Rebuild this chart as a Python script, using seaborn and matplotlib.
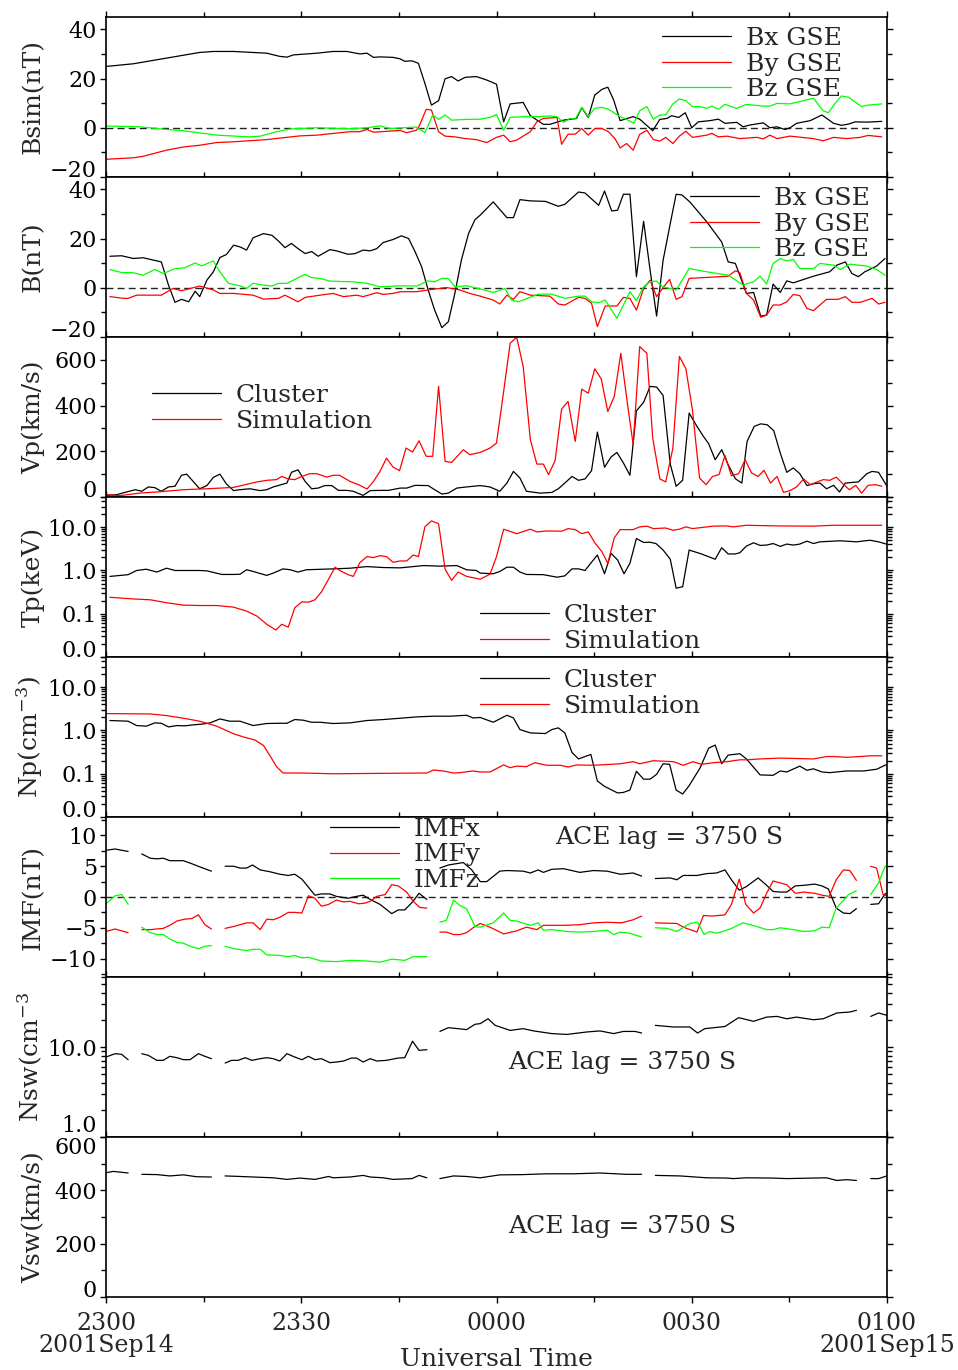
import numpy as np
import pandas as pd
import matplotlib
matplotlib.use("Agg")
import matplotlib.pyplot as plt
import seaborn as sns
from matplotlib.ticker import FixedLocator, FixedFormatter, LogLocator, NullFormatter
from matplotlib.lines import Line2D

# ---------------- data: (minutes after 2001-09-14 23:00 UT, value) ----------------
bsim_x = [(0,24.9),(4.2,26),(9.3,28.3),(14.4,30.6),(16.5,31),(19.6,31),(24.7,30.3),(26.7,29),(27.8,28.7),(28.8,29.6),(32.4,30.3),(34.9,31),(37.0,31),(39.0,30),(40.1,30.3),(41.1,28.6),(42.1,28.8),(44.1,28.6),(45.2,28),(45.9,27),(47.0,27.2),(48.0,26.2),(49.0,18),(50.0,9.2),(51.1,11),(52.1,19.9),(53.1,20.8),(54.1,19),(55.2,20.5),(56.9,20.8),(58.5,19.4),(60.0,17.7),(61.1,2.4),(62.1,9.7),(64.1,10.3),(65.2,4.9),(67.2,1.4),(68.2,1.4),(70.3,3.1),(72.3,3.8),(73.1,8.2),(74.1,4.2),(75.1,13.3),(76.2,15.6),(77.1,16.5),(78.0,11.3),(79.0,2.9),(81.0,4.5),(82.0,3.5),(84.0,-1.2),(85.1,3.4),(86.2,3.8),(86.9,4.9),(88.0,4.2),(89.0,6.1),(90.0,0),(91.0,2.4),(92.8,2.9),(94.1,3.5),(95.1,1.8),(96.9,2.2),(97.9,0.4),(98.9,1.1),(101.0,2.0),(102.0,0),(103.1,0.4),(104.3,-0.7),(105.1,0),(106.1,1.8),(108.2,2.9),(110.0,5.2),(111.8,1.8),(113.0,1.0),(114.1,1.5),(115.1,2.4),(117.1,2.3),(119.2,2.6)]
bsim_y = [(0,-12.8),(4.2,-12.2),(5.7,-11.6),(9.3,-9.1),(11.9,-7.8),(14.4,-7.1),(17.0,-6.0),(19.6,-5.7),(24.7,-4.8),(29.8,-3.3),(32.4,-3.0),(34.9,-2.3),(37.5,-1.6),(39.0,-1.6),(40.1,-0.7),(41.1,-1.8),(45.2,-1.1),(46.2,-2.0),(47.7,-1.0),(48.2,1.1),(49.2,7.5),(50.0,7.2),(51.1,-1.6),(52.1,-3.4),(53.6,-3.7),(55.2,-4.4),(56.9,-4.8),(57.5,-5.3),(58.5,-6.0),(60.0,-3.9),(61.1,-3.0),(62.1,-5.7),(63.1,-5.0),(65.2,-1.6),(66.2,2.4),(67.2,3.8),(69.3,4.2),(70.0,-6.7),(71.0,-2.6),(72.1,-2.6),(73.1,-0.3),(74.1,-3.0),(75.1,-0.3),(76.2,-0.3),(77.2,-1.6),(78.2,-4.4),(79.0,-8.2),(80.0,-6.4),(81.0,-9.1),(82.0,-2.7),(83.1,-1.0),(84.1,-4.8),(85.1,-5.4),(86.0,-3.9),(87.1,-6.4),(88.1,-3.4),(89.1,-1.4),(90.1,-3.9),(92.3,-3.0),(93.1,-2.3),(94.1,-3.7),(95.4,-3.4),(97.4,-4.4),(100.0,-3.9),(101.0,-4.5),(102.0,-3.0),(103.1,-4.4),(105.1,-3.4),(108.7,-4.4),(110.2,-5.3),(111.8,-3.9),(113.8,-4.4),(115.9,-3.9),(117.1,-3.1),(119.2,-3.7)]
bsim_z = [(0,0.7),(5.2,0.4),(9.3,-0.7),(11.9,-1.2),(17.0,-3.0),(22.1,-3.7),(23.7,-3.4),(26.2,-1.6),(28.3,-0.5),(32.4,0),(37.5,-0.4),(40.1,0),(42.1,0.8),(43.6,-0.3),(47.7,0.3),(49.0,-2.0),(50.2,5.2),(51.1,3.4),(52.1,5.2),(53.1,3.1),(55.4,3.4),(57.5,3.5),(59.0,4.2),(60.0,5.4),(61.1,-1.0),(62.1,4.2),(64.1,4.5),(66.2,4.5),(68.2,4.8),(69.3,4.5),(70.3,2.2),(71.3,3.8),(72.1,3.5),(73.1,8.3),(74.1,4.5),(75.1,7.9),(76.2,8.3),(77.2,7.5),(79.0,4.5),(80.0,3.4),(81.1,1.8),(82.0,6.9),(83.1,8.6),(84.1,3.5),(85.1,5.2),(86.0,5.2),(87.1,9.7),(88.1,11.7),(89.1,11.0),(90.1,8.6),(91.3,8.6),(92.3,7.9),(93.1,8.8),(94.1,7.5),(95.1,9.5),(96.9,7.9),(98.4,9.5),(101.0,8.8),(102.0,8.8),(103.1,9.9),(105.1,9.7),(108.7,12.0),(110.2,6.9),(111.0,6.1),(112.0,9.9),(113.0,12.9),(114.1,12.4),(116.1,8.6),(117.1,9.2),(119.2,9.7)]

b_x = [(0.6,12.8),(2.4,13.0),(4.2,11.9),(5.7,12.2),(8.5,10.5),(9.6,1.1),(10.6,-5.9),(11.6,-4.7),(12.7,-5.7),(13.7,-1.4),(14.4,-3.6),(15.5,3.1),(16.5,6.5),(17.5,12.3),(18.5,13.5),(19.6,17.3),(20.6,16.6),(21.6,15.3),(22.6,20.3),(24.2,22.0),(25.5,21.3),(26.5,19.0),(27.5,16.3),(28.5,18.0),(29.5,15.9),(30.6,13.9),(31.6,14.7),(32.6,12.8),(34.4,15.5),(35.4,15.0),(37.2,13.6),(38.3,13.9),(39.5,15.3),(40.6,15.0),(41.6,15.9),(42.6,18.4),(44.1,19.6),(45.4,21.1),(46.5,20.0),(47.5,14.6),(48.5,8.5),(49.5,-0.9),(50.5,-9.1),(51.6,-16.2),(52.6,-13.8),(53.6,-2.3),(54.6,11.2),(55.7,22.0),(56.7,27.7),(57.5,29.5),(59.5,34.9),(61.6,28.5),(62.6,28.5),(63.6,35.8),(65.2,35.3),(67.5,35.1),(69.5,33.1),(70.5,33.9),(72.6,38.9),(73.6,38.5),(75.7,33.5),(76.6,39.3),(77.7,31.2),(78.6,31.5),(79.5,38.0),(80.5,38.0),(81.5,4.5),(82.6,27.0),(83.6,7.2),(84.6,-11.5),(85.6,11.2),(86.7,26.1),(87.6,38.0),(88.5,37.7),(89.7,34.9),(92.3,26.8),(94.6,18.6),(95.6,10.5),(96.7,9.9),(98.4,-2.3),(99.5,-1.9),(100.6,-11.5),(101.5,-11.1),(102.5,1.5),(103.6,-1.9),(104.6,2.8),(105.6,2.0),(108.7,4.7),(111.2,6.5),(112.3,9.2),(113.6,10.5),(114.6,5.8),(115.6,4.5),(116.6,6.5),(118.4,8.8),(119.7,11.9)]
b_y = [(0.6,-3.6),(2.7,-4.3),(3.4,-4.3),(4.7,-3.0),(6.8,-3.0),(8.5,-3.0),(10.3,-0.3),(11.6,-1.2),(14.4,0.7),(16.5,-0.9),(17.5,-2.3),(19.6,-2.3),(22.6,-3.0),(24.2,-4.6),(26.5,-4.3),(27.5,-3.0),(29.5,-5.7),(30.6,-3.9),(32.9,-3.0),(34.9,-2.3),(36.5,-3.6),(38.5,-3.0),(39.5,-3.6),(41.6,-2.0),(42.6,-2.7),(44.1,-2.3),(45.2,-1.6),(47.7,-1.6),(49.5,-0.9),(52.3,0.1),(54.4,-0.9),(55.9,-2.3),(57.5,-3.4),(59.5,-5.0),(60.5,-6.6),(61.6,-3.0),(62.6,-4.7),(63.6,-1.6),(65.2,-3.0),(68.2,-3.4),(69.5,-6.6),(70.5,-7.0),(72.6,-3.9),(73.6,-4.3),(74.6,-6.3),(75.5,-15.8),(76.7,-7.4),(78.5,-7.4),(79.5,-3.9),(80.5,-4.3),(81.5,-9.1),(82.6,-0.3),(83.6,3.1),(84.6,-3.6),(85.6,0.1),(86.6,3.4),(87.6,-4.7),(88.5,-3.6),(89.6,3.8),(95.6,4.7),(96.7,6.9),(97.4,6.1),(98.4,-2.3),(99.5,-5.0),(100.6,-12.0),(101.5,-11.1),(102.5,-7.0),(103.6,-7.0),(104.6,-5.7),(105.6,-2.7),(106.6,-3.2),(107.7,-8.4),(108.7,-9.3),(110.7,-4.7),(112.5,-4.7),(113.6,-3.6),(114.6,-5.9),(115.9,-5.9),(117.7,-4.3),(118.7,-6.6),(119.7,-5.9)]
b_z = [(0.6,7.4),(2.4,6.2),(4.2,6.1),(5.7,5.1),(7.5,7.4),(8.8,5.8),(10.6,7.8),(12.1,8.1),(13.7,10.1),(14.7,8.9),(16.5,10.9),(17.5,6.5),(18.8,1.8),(20.6,0.8),(21.6,-0.3),(22.6,1.8),(24.2,1.1),(25.5,0.7),(26.5,1.8),(27.8,1.8),(29.3,3.8),(30.6,5.5),(31.6,4.1),(32.9,3.8),(34.4,2.7),(38.0,2.4),(40.1,1.8),(42.1,0.4),(45.2,0.8),(47.7,0.7),(49.5,2.8),(50.5,2.4),(51.6,3.8),(52.6,3.8),(53.6,0.4),(55.4,0.8),(57.5,-0.5),(59.5,-1.9),(61.3,-0.3),(62.3,-5.0),(63.4,-5.7),(66.4,-2.6),(68.5,-2.6),(70.5,-4.3),(72.6,-3.4),(73.6,-3.4),(74.6,-5.7),(75.7,-6.1),(76.7,-5.0),(78.5,-12.4),(80.5,-1.6),(81.5,-5.3),(82.6,0.4),(83.6,2.4),(84.6,2.7),(85.6,0.4),(87.6,-0.9),(89.6,7.8),(92.3,6.5),(95.6,5.1),(97.9,1.1),(98.7,1.8),(99.5,2.4),(100.5,4.7),(101.5,1.5),(102.5,9.9),(103.6,11.9),(104.6,10.9),(105.6,11.5),(106.6,7.8),(108.7,7.8),(109.7,9.9),(111.8,9.2),(112.8,7.4),(114.3,9.6),(116.9,8.8),(118.4,7.4),(119.7,5.1)]

vp_cluster = [(0,7),(1.6,10),(2.9,20),(4.5,32),(5.5,25),(6.5,44),(7.5,41),(8.5,25),(9.6,44),(10.6,47),(11.6,95),(12.4,100),(13.4,68),(14.4,36),(15.5,50),(16.5,86),(17.5,100),(18.5,57),(19.6,28),(20.6,32),(22.1,36),(23.7,28),(24.7,32),(25.7,44),(27.8,61),(28.5,108),(29.5,119),(30.6,68),(31.6,36),(32.6,39),(33.6,50),(34.7,50),(35.7,29),(37.0,29),(38.0,25),(39.5,7),(40.6,28),(42.1,29),(43.4,29),(45.2,39),(46.2,39),(47.5,51),(49.5,50),(50.5,32),(51.6,13),(52.6,17),(53.9,39),(55.4,44),(57.5,50),(59.0,44),(60.5,25),(61.6,61),(62.6,112),(63.6,83),(64.6,25),(66.7,17),(68.5,20),(69.5,36),(70.5,61),(71.6,90),(72.6,73),(73.6,79),(74.6,115),(75.5,284),(76.6,130),(77.6,175),(78.5,195),(79.5,149),(80.5,95),(81.5,377),(82.6,414),(83.6,484),(84.6,481),(85.6,444),(86.7,144),(87.6,47),(88.6,73),(89.6,367),(90.8,309),(91.8,265),(92.6,233),(93.6,163),(94.6,207),(95.6,141),(96.7,80),(97.7,61),(98.5,243),(99.6,309),(100.6,320),(101.6,316),(102.6,290),(103.6,192),(104.6,108),(105.6,127),(106.6,102),(107.7,50),(108.7,58),(109.7,61),(110.7,36),(111.8,51),(112.7,22),(113.6,61),(115.6,66),(116.9,102),(117.7,112),(118.7,108),(120.0,47)]
vp_sim = [(0,10),(2.1,6),(5.2,17),(8.3,23),(11.9,32),(15.5,36),(19.6,42),(21.4,54),(23.2,66),(24.7,73),(26.2,76),(27.0,90),(28.0,79),(29.0,76),(30.1,90),(31.3,102),(32.4,102),(33.9,87),(34.9,95),(35.9,95),(37.5,68),(38.8,54),(40.1,35),(41.1,68),(42.1,112),(43.1,170),(44.1,131),(45.1,115),(46.1,214),(47.1,197),(48.1,246),(49.2,178),(50.2,178),(51.1,484),(52.1,156),(53.1,151),(54.9,207),(55.9,185),(57.5,195),(59.0,214),(60.0,236),(61.1,462),(62.1,673),(63.1,699),(64.1,571),(65.2,251),(66.2,144),(67.2,144),(68.0,98),(69.0,159),(70.0,385),(71.0,418),(72.1,243),(73.1,472),(74.1,454),(75.1,561),(76.1,516),(77.1,374),(78.1,440),(79.1,629),(80.0,433),(81.0,229),(82.0,658),(83.1,629),(84.0,258),(85.1,79),(86.0,66),(87.1,214),(88.1,615),(89.1,561),(90.1,382),(91.2,83),(92.2,54),(93.2,90),(94.2,98),(95.1,182),(96.1,93),(97.2,102),(98.2,163),(99.2,105),(100.2,90),(101.1,117),(102.1,61),(103.1,90),(104.1,20),(105.1,28),(106.1,44),(107.2,79),(108.2,54),(110.2,76),(111.2,73),(112.2,87),(113.2,58),(114.2,32),(115.2,51),(116.1,17),(117.1,51),(118.2,54),(119.2,47)]

tp_cluster = [(0.6,0.73),(3.4,0.80),(4.7,1.0),(6.2,1.07),(7.8,0.92),(9.3,1.13),(10.6,1.0),(14.4,1.0),(15.5,0.98),(17.8,0.81),(19.6,0.81),(20.6,0.82),(21.6,1.04),(22.6,0.95),(24.7,0.77),(25.7,0.87),(27.2,1.09),(28.3,1.04),(29.5,0.92),(30.8,1.04),(34.9,1.09),(37.5,1.13),(40.1,1.23),(42.6,1.17),(45.2,1.15),(48.8,1.30),(51.3,1.26),(53.9,1.30),(55.4,1.04),(56.9,1.0),(57.5,0.87),(59.5,0.84),(60.5,0.95),(61.6,1.19),(62.6,1.19),(63.6,0.92),(64.6,0.81),(67.2,0.80),(69.3,0.70),(70.5,0.75),(71.6,1.09),(72.6,1.09),(73.6,1.0),(74.6,1.55),(75.5,2.28),(76.6,0.84),(77.6,2.49),(78.6,1.76),(79.6,0.84),(80.5,1.47),(81.5,5.5),(82.6,4.45),(83.6,4.5),(84.5,4.2),(85.6,2.97),(86.7,1.82),(87.6,0.39),(88.6,0.42),(89.6,2.97),(91.5,2.41),(93.6,1.82),(94.6,3.36),(95.6,2.41),(96.7,2.41),(97.4,2.58),(98.4,3.67),(99.5,4.37),(100.5,3.80),(101.5,3.87),(102.5,4.2),(103.6,3.61),(104.6,4.08),(105.6,3.87),(106.6,4.08),(107.7,4.77),(108.7,4.2),(109.7,4.6),(112.8,4.86),(115.3,4.6),(117.4,5.0),(118.7,4.6),(119.9,4.08)]
tp_sim = [(0.6,0.24),(4.2,0.22),(6.8,0.21),(9.3,0.18),(11.9,0.158),(14.4,0.155),(17.0,0.155),(19.6,0.142),(21.6,0.115),(23.2,0.088),(24.7,0.057),(26.1,0.042),(27.0,0.057),(28.0,0.049),(29.0,0.137),(30.1,0.188),(31.1,0.185),(32.1,0.21),(33.1,0.32),(34.2,0.63),(35.2,1.19),(36.2,0.95),(37.2,0.80),(38.0,0.73),(39.0,1.52),(40.1,2.09),(41.1,1.99),(42.1,2.2),(43.1,2.09),(44.1,1.55),(45.2,1.66),(46.2,1.66),(47.2,2.28),(48.0,2.09),(49.0,10.2),(50.0,14),(51.1,12.1),(52.1,1.07),(53.1,0.59),(54.1,0.92),(55.4,0.73),(57.5,0.63),(59.0,0.82),(60.0,2.09),(61.1,9.0),(63.1,7.1),(65.2,9.0),(66.2,7.8),(67.7,8.2),(70.0,8.1),(71.0,9.3),(72.1,8.8),(73.1,7.1),(74.1,7.8),(75.1,4.37),(76.2,2.72),(77.1,1.47),(78.1,5.7),(79.0,8.8),(81.0,8.8),(82.0,10.2),(83.1,10.6),(84.1,9.3),(86.0,9.6),(87.1,8.5),(88.1,9.0),(89.1,10.2),(90.1,9.3),(93.3,10.6),(95.4,10.7),(96.4,10.2),(98.4,11.1),(103.6,10.7),(108.7,10.6),(111.8,11.1),(119.2,11.1)]

np_cluster = [(0.6,1.70),(3.4,1.64),(4.7,1.30),(6.2,1.26),(7.5,1.50),(8.5,1.47),(9.6,1.21),(10.9,1.30),(12.1,1.28),(13.4,1.35),(14.7,1.40),(16.0,1.50),(17.5,1.85),(19.0,1.64),(20.6,1.64),(22.6,1.30),(24.7,1.45),(26.7,1.47),(27.8,1.47),(29.0,1.79),(30.3,1.73),(31.6,1.55),(32.9,1.55),(34.9,1.45),(37.5,1.50),(40.1,1.70),(42.6,1.79),(45.2,1.92),(47.7,2.06),(50.3,2.14),(52.9,2.14),(55.4,2.25),(56.4,1.95),(57.5,2.0),(59.5,1.55),(61.6,2.25),(62.6,1.95),(63.6,1.05),(65.2,0.88),(67.5,0.85),(68.5,1.05),(69.5,1.15),(70.5,0.88),(71.6,0.31),(72.6,0.22),(74.5,0.28),(75.5,0.068),(76.6,0.051),(78.6,0.036),(79.5,0.037),(80.5,0.042),(81.5,0.114),(82.6,0.075),(83.6,0.075),(84.6,0.097),(85.6,0.17),(86.6,0.165),(87.6,0.042),(88.6,0.034),(89.6,0.053),(91.3,0.138),(92.6,0.39),(93.6,0.46),(94.6,0.17),(95.6,0.27),(97.4,0.29),(98.4,0.22),(100.5,0.094),(102.5,0.092),(103.6,0.116),(104.6,0.110),(106.6,0.15),(107.7,0.12),(108.7,0.13),(110.0,0.11),(111.2,0.106),(113.8,0.116),(116.4,0.116),(118.4,0.127),(120.0,0.165)]
np_sim = [(0,2.46),(6.8,2.41),(9.3,2.21),(11.9,1.92),(14.4,1.64),(17.0,1.26),(19.6,0.84),(21.1,0.71),(22.9,0.60),(24.2,0.45),(25.2,0.26),(26.2,0.146),(27.2,0.104),(29.8,0.104),(34.9,0.10),(49.3,0.104),(50.3,0.122),(51.8,0.116),(53.4,0.104),(54.4,0.106),(56.4,0.116),(57.5,0.11),(59.0,0.11),(61.1,0.16),(62.1,0.138),(63.1,0.15),(64.6,0.146),(65.9,0.18),(67.7,0.157),(69.8,0.157),(71.0,0.143),(72.3,0.16),(74.9,0.157),(79.0,0.17),(81.0,0.19),(82.0,0.17),(84.1,0.20),(87.2,0.19),(88.7,0.157),(90.2,0.19),(91.5,0.165),(93.3,0.18),(95.4,0.19),(97.4,0.21),(98.4,0.21),(100.5,0.22),(103.6,0.23),(108.7,0.22),(110.7,0.25),(111.8,0.25),(113.8,0.24),(115.9,0.25),(117.4,0.26),(119.2,0.26)]

# ACE data (lagged), in gap-separated segments
imf_x = [
    [(0,7.6),(1.4,7.8),(3.4,7.4)],
    [(5.5,7.0),(6.8,6.3),(7.8,6.2),(8.8,6.3),(9.8,5.9),(11.9,5.9),(13.2,5.4),(14.4,4.9),(16.2,4.2)],
    [(18.3,5.0),(19.6,5.0),(20.6,4.7),(21.6,4.7),(22.5,5.2),(23.7,4.4),(25.2,4.1),(26.7,3.7),(28.0,3.5),(29.0,3.7),(30.1,2.9),(31.1,1.6),(32.1,0.3),(33.1,0.5),(34.4,0.5),(35.4,0.1),(37.2,-0.2),(38.5,0.1),(39.5,0.3),(40.6,-0.4),(42.1,-1.2),(43.9,-2.7),(44.9,-2.1),(45.9,-2.1),(47.1,-0.8),(48.1,0.6),(49.3,-0.4)],
    [(51.3,4.7),(52.6,5.2),(54.9,5.6),(56.2,4.4),(57.5,2.5),(58.5,2.5),(60.5,4.2),(61.6,4.3),(64.1,4.2),(65.2,3.9),(66.4,4.4),(67.2,4.0),(68.5,4.5),(70.3,4.6),(72.8,4.0),(74.9,4.3),(77.0,4.2),(79.0,3.7),(81.0,3.9),(82.3,3.4)],
    [(84.4,3.0),(86.7,3.1),(87.7,2.8),(88.7,3.5),(90.8,3.5),(92.3,3.8),(93.8,3.9),(95.1,4.4),(96.1,2.8),(97.3,1.1),(98.4,1.7),(100.2,3.1),(101.3,2.1),(102.5,0.9),(103.6,0.8),(104.6,0.8),(105.9,1.8),(107.2,1.9),(108.9,2.1),(110.0,1.8),(111.0,1.3),(112.2,-1.8),(113.3,-2.6),(114.3,-2.7),(115.3,-1.9)],
    [(117.5,-1.2),(118.7,-1.1),(119.7,0.5),(120.0,0.6)],
]
imf_y = [
    [(0,-5.6),(1.4,-5.2),(3.4,-5.8)],
    [(5.5,-5.3),(6.8,-5.3),(8.8,-5.1),(9.8,-4.6),(10.9,-3.9),(12.1,-3.6),(13.2,-3.5),(14.2,-2.9),(15.2,-4.5),(16.2,-5.2)],
    [(18.3,-5.1),(19.6,-4.8),(21.6,-4.2),(22.6,-4.2),(23.7,-5.3),(24.7,-3.6),(25.7,-3.7),(26.7,-3.3),(28.0,-2.5),(29.0,-2.5),(30.1,-2.6),(31.1,0.2),(32.1,-0.2),(33.1,-1.5),(34.2,-1.2),(35.4,-0.5),(36.5,-0.8),(37.5,-0.7),(38.8,-1.1),(39.8,-1.0),(40.6,-0.7),(41.6,0.1),(42.9,0.4),(43.9,2.0),(44.9,1.8),(46.2,0.8),(47.2,-0.7),(48.2,-1.7),(49.3,-1.8)],
    [(51.3,-5.7),(52.3,-5.7),(53.4,-6.1),(54.4,-6.1),(55.4,-5.8),(56.4,-5.0),(57.5,-4.3),(59.0,-4.9),(61.1,-6.0),(63.1,-5.5),(64.6,-4.9),(66.2,-5.3),(67.2,-4.6),(70.3,-4.6),(72.8,-4.5),(74.9,-4.2),(77.0,-4.1),(79.2,-4.2),(81.0,-3.7),(82.3,-3.1)],
    [(84.4,-4.2),(87.7,-4.3),(88.7,-4.9),(90.8,-5.7),(91.8,-3.0),(93.1,-3.1),(95.1,-2.9),(96.1,-1.2),(97.3,2.9),(98.3,-1.2),(99.5,-2.6),(100.5,-1.8),(101.5,0.6),(102.5,2.6),(104.6,2.0),(105.9,0.6),(107.2,0.8),(108.9,0.6),(110.0,0.3),(111.1,0.1),(112.2,2.8),(113.3,4.4),(114.3,4.3),(115.3,2.7)],
    [(117.5,5.0),(118.4,4.7),(119.4,0.4),(120.0,0.2)],
]
imf_z = [
    [(0,-1.1),(1.4,0.2),(2.4,0.4),(3.4,-1.2)],
    [(5.5,-4.9),(6.8,-5.8),(7.8,-6.1),(8.8,-6.1),(9.8,-6.8),(10.9,-7.4),(11.9,-7.5),(12.9,-8.0),(14.2,-8.4),(15.2,-8.0),(16.2,-7.9)],
    [(18.3,-8.0),(19.6,-8.4),(21.6,-8.7),(22.6,-8.5),(23.7,-8.5),(24.7,-9.4),(26.7,-9.5),(28.0,-9.7),(29.0,-9.5),(30.1,-9.9),(31.1,-9.8),(33.1,-10.4),(35.4,-10.5),(37.5,-10.3),(40.1,-10.4),(42.1,-10.6),(43.9,-10.1),(45.9,-10.3),(47.2,-9.7),(49.3,-9.7)],
    [(51.3,-4.1),(52.3,-3.8),(53.4,-0.5),(54.4,-1.4),(55.4,-1.9),(56.7,-4.8),(57.5,-4.9),(59.5,-4.2),(61.1,-2.6),(62.1,-3.8),(63.1,-3.9),(65.2,-4.6),(66.4,-4.2),(67.2,-5.4),(68.5,-5.3),(70.8,-5.6),(72.8,-5.7),(74.9,-5.6),(77.0,-5.4),(78.0,-6.1),(79.0,-5.7),(80.5,-5.9),(82.3,-6.5)],
    [(84.4,-5.0),(86.2,-5.1),(87.7,-5.6),(89.7,-4.3),(90.9,-4.1),(91.9,-6.1),(92.8,-5.6),(93.8,-5.9),(95.9,-5.2),(97.9,-4.2),(100.0,-4.8),(101.5,-5.3),(102.5,-5.3),(103.6,-5.0),(105.6,-5.3),(107.2,-5.6),(108.9,-5.5),(110.0,-4.9),(111.1,-5.0),(112.2,-1.8),(114.1,0.4),(115.3,1.0)],
    [(117.5,0.4),(118.7,2.3),(119.7,5.0),(120.0,5.0)],
]
nsw = [
    [(0,7.74),(1.4,8.43),(2.4,8.29),(3.4,7.23)],
    [(5.5,8.43),(6.5,8.08),(7.8,7.11),(8.8,7.11),(9.8,7.88),(10.9,7.61),(11.9,7.23),(12.9,7.23),(14.2,8.43),(15.2,7.88),(16.2,7.42)],
    [(18.3,6.64),(19.3,7.11),(20.3,7.11),(21.4,7.61),(22.4,7.11),(23.7,7.42),(24.7,7.61),(25.7,7.42),(26.7,6.99),(27.8,8.43),(29.0,7.74),(30.1,7.23),(31.1,7.88),(32.1,7.23),(33.1,7.42),(34.4,6.70),(35.4,6.81),(36.5,6.99),(37.7,7.54),(38.5,7.54),(39.5,6.81),(40.6,7.42),(41.6,6.99),(43.1,7.11),(44.9,7.54),(45.9,7.61),(47.1,11.6),(48.1,9.18),(49.3,9.34)],
    [(51.3,14.9),(52.6,16.4),(54.1,16.0),(55.4,15.6),(56.7,17.9),(57.5,18.2),(58.7,20.6),(59.8,17.4),(62.1,15.3),(64.1,16.0),(65.7,15.1),(68.5,14.1),(70.8,13.8),(73.9,14.7),(75.9,15.1),(78.0,14.1),(79.5,14.9),(81.3,14.9),(82.3,14.3)],
    [(84.4,17.4),(87.2,16.7),(89.7,16.7),(90.9,14.3),(92.0,16.0),(95.1,16.9),(97.2,21.2),(99.5,19.3),(101.5,21.5),(103.1,21.9),(104.6,20.6),(106.1,21.5),(108.7,20.1),(110.2,20.6),(112.3,23.9),(114.3,24.5),(115.3,25.6)],
    [(117.5,21.9),(118.7,23.9),(120.0,22.5)],
]
vsw = [
    [(0,466),(1.1,471),(3.4,465)],
    [(5.5,460),(7.8,459),(9.8,454),(11.9,458),(13.9,451),(16.2,450)],
    [(18.3,454),(20.6,452),(22.6,450),(25.7,447),(27.8,441),(29.8,446),(32.1,441),(34.2,452),(34.9,447),(37.5,450),(39.5,456),(40.6,450),(42.6,447),(44.1,441),(47.0,444),(48.1,456),(49.3,447)],
    [(51.3,444),(53.4,454),(55.4,452),(57.5,447),(60.5,458),(64.1,459),(67.7,462),(71.8,462),(75.9,465),(80.0,460),(82.3,460)],
    [(84.4,456),(88.2,454),(92.3,447),(95.4,446),(96.4,444),(98.4,447),(102.5,446),(104.6,444),(108.7,446),(110.7,447),(112.3,437),(113.8,440),(115.3,437)],
    [(117.5,444),(118.7,444),(120.0,454)],
]

x_major = [0, 30, 60, 90, 120]
x_minor = [15, 45, 75, 105]
x_labels = ["2300\n2001Sep14", "2330", "0000", "0030", "0100\n2001Sep15"]
gse_labels = ["Bx GSE", "By GSE", "Bz GSE"]
cs_labels = ["Cluster", "Simulation"]
imf_labels = ["IMFx", "IMFy", "IMFz"]
ace_note = "ACE lag = 3750 S"

# ---------------- style ----------------
sns.set_style("white")
plt.rcParams["font.family"] = ["DejaVu Serif"]
plt.rcParams["mathtext.fontset"] = "dejavuserif"

BLACK, RED, GREEN = "#000000", "#ff0000", "#00ff00"
LW = 0.9
FS = 18
TFS = 16

W, H = 958, 1370
fig = plt.figure(figsize=(W / 100, H / 100), dpi=100)
left, right = 106 / W, 887 / W
top_px, ph = 17, 160
axes = []
for i in range(8):
    y0 = 1 - (top_px + (i + 1) * ph) / H
    axes.append(fig.add_axes([left, y0, right - left, ph / H]))


def frame(segments):
    rows = []
    for k, seg in enumerate(segments):
        for t, v in seg:
            rows.append((t, v, k))
    return pd.DataFrame(rows, columns=["t", "v", "seg"])


def draw(ax, segments, color):
    sns.lineplot(data=frame(segments), x="t", y="v", units="seg", estimator=None,
                 sort=False, color=color, lw=LW, ax=ax, legend=False)


def legend(ax, labels, colors, x, y):
    handles = [Line2D([], [], color=c, lw=LW) for c in colors]
    ax.legend(handles, labels, loc="upper left", bbox_to_anchor=(x, y), frameon=False,
              fontsize=FS, handlelength=2.75, handletextpad=0.6, labelspacing=0.1,
              borderpad=0, borderaxespad=0)


def zero_line(ax):
    ax.axhline(0, color="#222222", lw=1.0, ls=(0, (5, 3)), zorder=1)


# Panel 1: Bsim
ax = axes[0]
draw(ax, [bsim_x], BLACK); draw(ax, [bsim_y], RED); draw(ax, [bsim_z], GREEN)
zero_line(ax)
ax.set_ylim(-20, 45)
ax.yaxis.set_major_locator(FixedLocator([-20, 0, 20, 40]))
ax.yaxis.set_minor_locator(FixedLocator([-10, 10, 30]))
ax.set_ylabel("Bsim(nT)")
legend(ax, gse_labels, [BLACK, RED, GREEN], 0.712, 0.936)

# Panel 2: B
ax = axes[1]
draw(ax, [b_x], BLACK); draw(ax, [b_y], RED); draw(ax, [b_z], GREEN)
zero_line(ax)
ax.set_ylim(-20, 45)
ax.yaxis.set_major_locator(FixedLocator([-20, 0, 20, 40]))
ax.yaxis.set_minor_locator(FixedLocator([-10, 10, 30]))
ax.set_ylabel("B(nT)")
legend(ax, gse_labels, [BLACK, RED, GREEN], 0.748, 0.936)

# Panel 3: Vp
ax = axes[2]
draw(ax, [vp_cluster], BLACK); draw(ax, [vp_sim], RED)
ax.set_ylim(0, 700)
ax.yaxis.set_major_locator(FixedLocator([0, 200, 400, 600]))
ax.yaxis.set_minor_locator(FixedLocator([100, 300, 500]))
ax.set_ylabel("Vp(km/s)")
legend(ax, cs_labels, [BLACK, RED], 0.059, 0.706)

# Panel 4: Tp (log)
ax = axes[3]
draw(ax, [tp_cluster], BLACK); draw(ax, [tp_sim], RED)
ax.set_yscale("log")
ax.set_ylim(0.01, 50)
ax.yaxis.set_major_locator(FixedLocator([0.01, 0.1, 1, 10]))
ax.yaxis.set_major_formatter(FixedFormatter(["0.0", "0.1", "1.0", "10.0"]))
ax.yaxis.set_minor_locator(LogLocator(base=10, subs=np.arange(2, 10)))
ax.yaxis.set_minor_formatter(NullFormatter())
ax.set_ylabel("Tp(keV)")
legend(ax, cs_labels, [BLACK, RED], 0.479, 0.331)

# Panel 5: Np (log)
ax = axes[4]
draw(ax, [np_cluster], BLACK); draw(ax, [np_sim], RED)
ax.set_yscale("log")
ax.set_ylim(0.01, 50)
ax.yaxis.set_major_locator(FixedLocator([0.01, 0.1, 1, 10]))
ax.yaxis.set_major_formatter(FixedFormatter(["0.0", "0.1", "1.0", "10.0"]))
ax.yaxis.set_minor_locator(LogLocator(base=10, subs=np.arange(2, 10)))
ax.yaxis.set_minor_formatter(NullFormatter())
ax.set_ylabel("Np(cm$^{-3}$)")
legend(ax, cs_labels, [BLACK, RED], 0.479, 0.925)

# Panel 6: IMF
ax = axes[5]
draw(ax, imf_x, BLACK); draw(ax, imf_y, RED); draw(ax, imf_z, GREEN)
zero_line(ax)
ax.set_ylim(-13, 13)
ax.yaxis.set_major_locator(FixedLocator([-10, -5, 0, 5, 10]))
ax.yaxis.set_minor_locator(FixedLocator([-12.5, -7.5, -2.5, 2.5, 7.5, 12.5]))
ax.set_ylabel("IMF(nT)")
legend(ax, imf_labels, [BLACK, RED, GREEN], 0.287, 0.995)
ax.text(0.575, 0.869, ace_note, transform=ax.transAxes, fontsize=FS, ha="left", va="center")

# Panel 7: Nsw (log)
ax = axes[6]
draw(ax, nsw, BLACK)
ax.set_yscale("log")
ax.set_ylim(1, 60)
ax.yaxis.set_major_locator(FixedLocator([1, 10]))
ax.yaxis.set_major_formatter(FixedFormatter(["1.0", "10.0"]))
ax.yaxis.set_minor_locator(LogLocator(base=10, subs=np.arange(2, 10)))
ax.yaxis.set_minor_formatter(NullFormatter())
ax.set_ylabel("Nsw(cm$^{-3}$")
ax.text(0.515, 0.4625, ace_note, transform=ax.transAxes, fontsize=FS, ha="left", va="center")

# Panel 8: Vsw
ax = axes[7]
draw(ax, vsw, BLACK)
ax.set_ylim(0, 600)
ax.yaxis.set_major_locator(FixedLocator([0, 200, 400, 600]))
ax.yaxis.set_minor_locator(FixedLocator([100, 300, 500]))
ax.set_ylabel("Vsw(km/s)")
ax.text(0.515, 0.4375, ace_note, transform=ax.transAxes, fontsize=FS, ha="left", va="center")

# ---------------- common axes formatting ----------------
for i, ax in enumerate(axes):
    ax.set_xlim(0, 120)
    ax.xaxis.set_major_locator(FixedLocator(x_major))
    ax.xaxis.set_minor_locator(FixedLocator(x_minor))
    ax.tick_params(axis="both", which="both", direction="out", top=True, right=True,
                   bottom=True, left=True, color="black", width=1.0)
    ax.tick_params(which="major", length=4.5)
    ax.tick_params(which="minor", length=3.5)
    ax.tick_params(axis="y", which="major", labelsize=TFS, pad=2, labelcolor="black")
    ax.set_xlabel("")
    ax.yaxis.label.set_fontsize(FS)
    ax.yaxis.set_label_coords(-0.078, 0.5)
    for s in ax.spines.values():
        s.set_linewidth(1.2)
        s.set_color("black")
    if i < 7:
        ax.tick_params(axis="x", labelbottom=False)
    ax.set_facecolor("white")

bottom = axes[-1]
bottom.xaxis.set_major_formatter(FixedFormatter(x_labels))
bottom.tick_params(axis="x", which="major", labelbottom=True, labelsize=17, pad=6)
bottom.set_xlabel("Universal Time", fontsize=FS)
bottom.xaxis.set_label_coords(0.5, -0.32)

# first draw so tick objects carry their real positions
fig.canvas.draw()
for lab in bottom.get_xticklabels():
    lab.set_linespacing(0.95)

# edge tick labels shifted inward (as in the original)
edge_bottom = {0: -20, 1: -20, 2: 0, 3: 0.01, 4: 0.01, 6: 1, 7: 0}
for i, val in edge_bottom.items():
    for tk in axes[i].yaxis.get_major_ticks():
        loc = tk.get_loc()
        if loc is not None and np.isclose(loc, val):
            tk.label1.set_va("bottom" if i == 6 else "baseline")
for tk in axes[7].yaxis.get_major_ticks():
    loc = tk.get_loc()
    if loc is not None and np.isclose(loc, 600):
        tk.label1.set_va("top")

fig.savefig("out.png", dpi=100, facecolor="white")
